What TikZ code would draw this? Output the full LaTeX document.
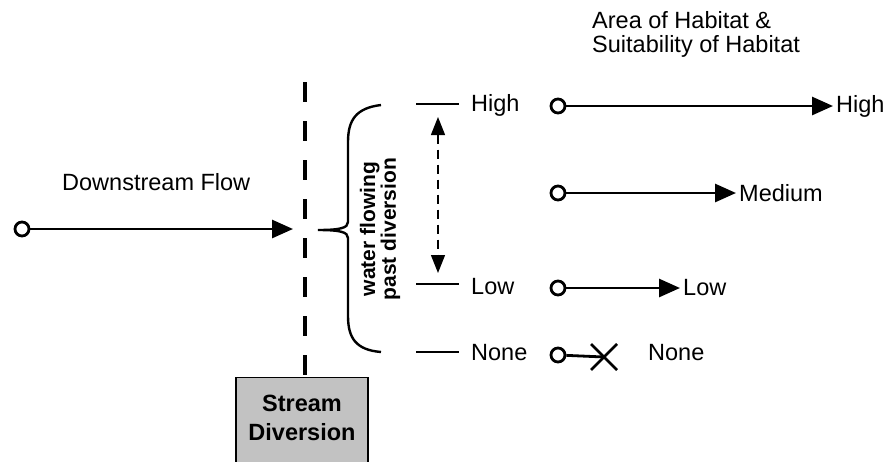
\documentclass[tikz,border=0pt]{standalone}
\usepackage{fontspec}
\setmainfont{Liberation Sans}
\usetikzlibrary{arrows.meta,calc}
\definecolor{boxgray}{RGB}{194,194,194}
\tikzset{
  lbl/.style={inner sep=0pt, font=\fontsize{23.5}{24}\selectfont},
  bigarrow/.style={line width=2.8pt, -{Triangle[length=21pt,width=18pt]}, shorten >=3pt},
  tick/.style={line width=2.8pt},
  opencirc/.style={circle, draw, line width=2.8pt, fill=white, minimum size=14pt, inner sep=0pt},
}
\begin{document}
\begin{tikzpicture}[x=1pt,y=-1pt]
\useasboundingbox (0,0) rectangle (896,461);
% title
\node[lbl, anchor=north west, align=left, font=\fontsize{23.5}{24.5}\selectfont] (title) at (592,11) {Area of Habitat \&\\Suitability of Habitat};
% downstream flow
\node[lbl, anchor=base west] (dflow) at (62,190) {Downstream Flow};
\node[opencirc] (c0) at (22,229) {};
\coordinate (a0) at (293,229);
\draw[bigarrow, shorten >=0pt] (c0) -- (a0);
% stream diversion box
\begin{scope}
\clip (0,0) rectangle (896,461);
\node[draw, line width=1.2pt, fill=boxgray, minimum width=132pt, minimum height=100pt, anchor=north, inner sep=0pt] (box) at (302,377) {};
\end{scope}
\node[inner sep=0pt, align=center, font=\fontsize{23.5}{29}\bfseries\selectfont, anchor=north] (boxtxt) at (302,395) {Stream\\Diversion};
\coordinate (dtop) at (305,82);
\draw[line width=4pt, dash pattern=on 20pt off 19pt] (dtop) -- (box.north -| dtop);
% brace
\coordinate (btop) at (381,105);
\coordinate (bbot) at (381,352);
\coordinate (btip) at (318,230);
\draw[line width=2.4pt] (btop) .. controls (356,108) and (348,120) .. (348,142)
  -- (348,222) .. controls (348,228) and (340,230) .. (btip)
  .. controls (340,230) and (348,232) .. (348,238)
  -- (348,316) .. controls (348,338) and (356,350) .. (bbot);
\node[inner sep=0pt, align=center, rotate=90, font=\fontsize{21}{19}\bfseries\selectfont] (btxt) at (380,229) {water flowing\\past diversion};
% left level marks
\coordinate (hL) at (416,104); \coordinate (hR) at (459,104);
\coordinate (lL) at (416,284); \coordinate (lR) at (459,284);
\coordinate (nL) at (416,352); \coordinate (nR) at (459,352);
\draw[tick] (hL) -- (hR);
\draw[tick] (lL) -- (lR);
\draw[tick] (nL) -- (nR);
\node[lbl, anchor=west] (hT) at (471,105) {High};
\node[lbl, anchor=west] (lT) at (471,287) {Low};
\node[lbl, anchor=west] (nT) at (471,353) {None};
% dashed double arrow
\coordinate (dup) at (438,117);
\coordinate (ddn) at (438,273);
\draw[line width=1.4pt, dash pattern=on 9pt off 6pt, {Triangle[length=18pt,width=14pt]}-{Triangle[length=18pt,width=14pt]}] (dup) -- (ddn);
% right arrows
\node[opencirc] (cH) at (558,106) {};
\node[opencirc] (cM) at (558,193) {};
\node[opencirc] (cL) at (558,288) {};
\node[opencirc] (cN) at (558,355) {};
\node[lbl, anchor=west] (rH) at (836,106) {High};
\node[lbl, anchor=west] (rM) at (739,193) {Medium};
\node[lbl, anchor=west] (rL) at (683,288) {Low};
\node[lbl, anchor=west] (rN) at (648,353) {None};
\draw[bigarrow] (cH) -- (rH.west);
\draw[bigarrow] (cM) -- (rM.west);
\draw[bigarrow] (cL) -- (rL.west);
\coordinate (xc) at (604,357);
\draw[line width=2.8pt] (cN) -- (xc);
\draw[line width=2.8pt] ($(xc)+(-13,-13)$) -- ($(xc)+(13,13)$);
\draw[line width=2.8pt] ($(xc)+(-13,13)$) -- ($(xc)+(13,-13)$);
\end{tikzpicture}
\end{document}
